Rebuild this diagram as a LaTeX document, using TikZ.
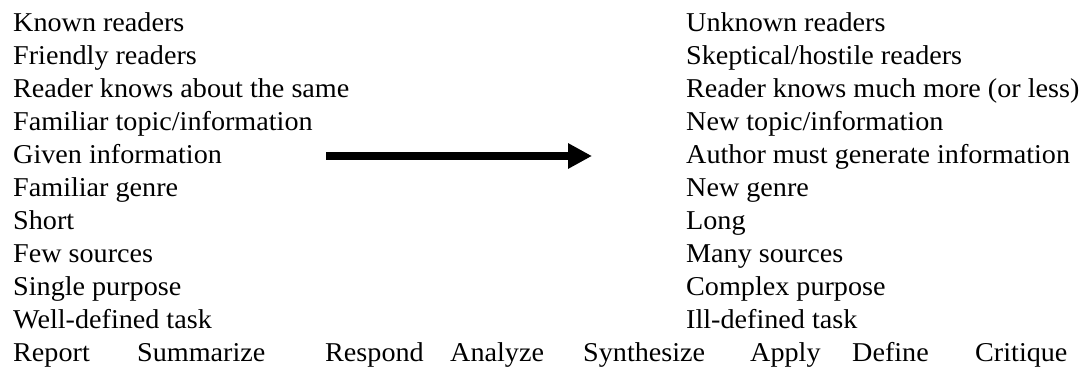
\documentclass[tikz,border=0pt]{standalone}
\usepackage{fontspec}
\setmainfont{Liberation Serif}[FakeStretch=1.035]
\usetikzlibrary{arrows.meta}
\begin{document}
\begin{tikzpicture}[x=1pt,y=1pt,
  txt/.style={anchor=base west,inner sep=0pt,font=\fontsize{27.2}{32}\selectfont},
  bigarrow/.style={line width=8.3pt,-{Triangle[length=24pt,width=24pt]}}]
\useasboundingbox (0,0) rectangle (1082,-369);
\foreach \t [count=\i] in {Known readers,Friendly readers,Reader knows about the same,Familiar topic/information,Given information,Familiar genre,Short,Few sources,Single purpose,Well-defined task}
  \node[txt] (L\i) at (13,{-(31.7+(\i-1)*32.93)}) {\t};
\foreach \t [count=\i] in {Unknown readers,Skeptical/hostile readers,Reader knows much more (or less),New topic/information,Author must generate information,New genre,Long,Many sources,Complex purpose,Ill-defined task}
  \node[txt] (R\i) at (686,{-(31.7+(\i-1)*32.93)}) {\t};
\foreach \t/\x [count=\i] in {Report/13,Summarize/137,Respond/325,Analyze/450,Synthesize/583,Apply/750,Define/852,Critique/975}
  \node[txt] (B\i) at (\x,-361) {\t};
\coordinate (as) at (326,-156);
\coordinate (ae) at (592,-156);
\draw[bigarrow] (as) -- (ae);
\end{tikzpicture}
\end{document}
